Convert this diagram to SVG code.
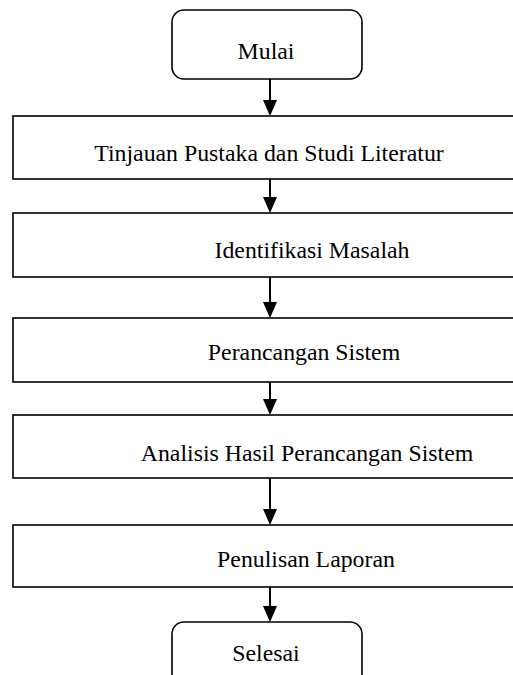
<svg xmlns="http://www.w3.org/2000/svg" width="513" height="675" viewBox="0 0 513 675">
<style>
.box{fill:#fff;stroke:#000;stroke-width:1.6}
.lbl{font-family:"Liberation Serif","Times New Roman",serif;font-size:23.8px;fill:#000;text-anchor:middle}
.con line{stroke:#000;stroke-width:2}
.con polygon{fill:#000}
</style>
<rect width="513" height="675" fill="#fff"/>
<g id="connectors" class="con">
<line x1="270" y1="79" x2="270" y2="103"/>
<polygon points="263,100 277,100 270,116"/>
<line x1="270" y1="179" x2="270" y2="200"/>
<polygon points="263,197 277,197 270,213"/>
<line x1="270" y1="277" x2="270" y2="305"/>
<polygon points="263,302 277,302 270,318"/>
<line x1="270" y1="382" x2="270" y2="402"/>
<polygon points="263,399 277,399 270,415"/>
<line x1="270" y1="478" x2="270" y2="512"/>
<polygon points="263,509 277,509 270,525"/>
<line x1="270" y1="587" x2="270" y2="609"/>
<polygon points="263,606 277,606 270,622"/>
</g>
<g id="mulai">
<rect class="box" x="172" y="10" width="190" height="69" rx="12"/>
<text class="lbl" x="266" y="59">Mulai</text>
</g>
<g id="tinjauan">
<rect class="box" x="13" y="116" width="520" height="63"/>
<text class="lbl" x="269" y="161">Tinjauan Pustaka dan Studi Literatur</text>
</g>
<g id="identifikasi">
<rect class="box" x="13" y="213" width="520" height="64"/>
<text class="lbl" x="312" y="258">Identifikasi Masalah</text>
</g>
<g id="perancangan">
<rect class="box" x="13" y="318" width="520" height="64"/>
<text class="lbl" x="304" y="360">Perancangan Sistem</text>
</g>
<g id="analisis">
<rect class="box" x="13" y="415" width="520" height="63"/>
<text class="lbl" x="307" y="461">Analisis Hasil Perancangan Sistem</text>
</g>
<g id="penulisan">
<rect class="box" x="13" y="525" width="520" height="62"/>
<text class="lbl" x="306" y="567">Penulisan Laporan</text>
</g>
<g id="selesai">
<rect class="box" x="172" y="622" width="190" height="80" rx="12"/>
<text class="lbl" x="266" y="661">Selesai</text>
</g>
</svg>
